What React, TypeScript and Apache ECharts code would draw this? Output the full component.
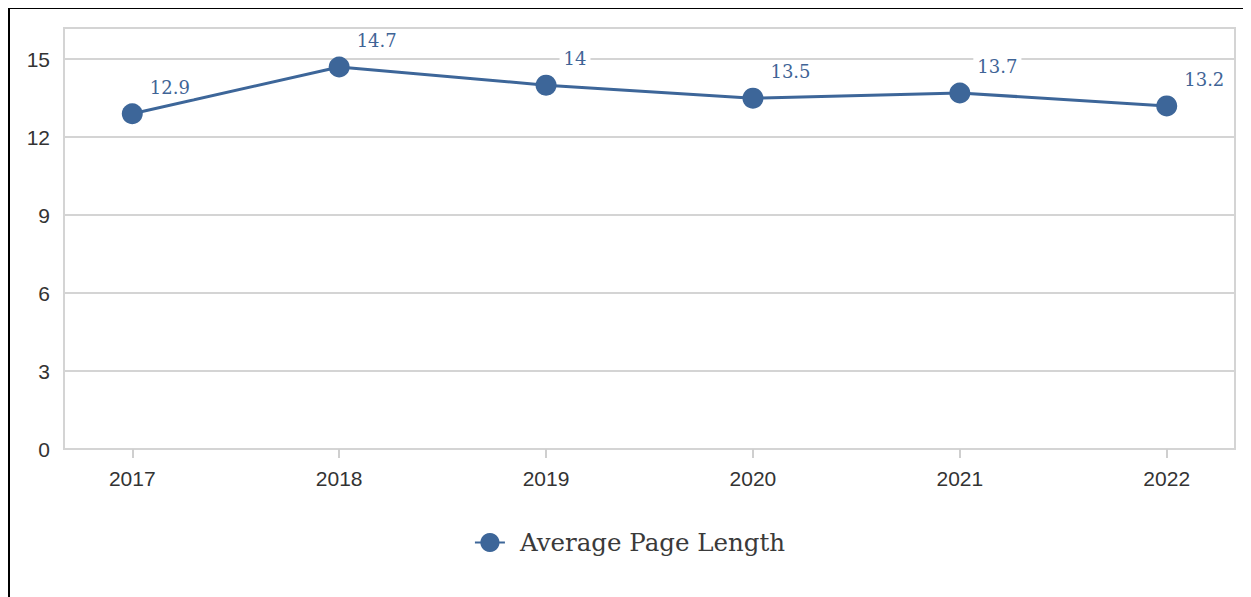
import React, { useEffect, useRef } from "react";
import * as echarts from "echarts";

const years = [2017, 2018, 2019, 2020, 2021, 2022];
const avgPageLength = [12.9, 14.7, 14, 13.5, 13.7, 13.2];
const yTicks = [0, 3, 6, 9, 12, 15];
const seriesName = "Average Page Length";

export default function App() {
  const ref = useRef<HTMLDivElement>(null);
  useEffect(() => {
    if (!ref.current) return;
    const chart = echarts.init(ref.current, undefined, { renderer: "svg" });
    const blue = "#3d6699";
    chart.setOption({
      animation: false,
      grid: {
        left: 54,
        right: 14,
        top: 19,
        bottom: 152,
        show: true,
        borderColor: "#d4d4d4",
        borderWidth: 2,
      },
      legend: {
        top: 516,
        left: "center",
        itemWidth: 30,
        itemHeight: 24,
        textStyle: {
          fontFamily: "DejaVu Serif",
          fontSize: 24.5,
          color: "#3a3a3a",
          padding: [0, 0, 0, 10],
        },
        data: [seriesName],
      },
      xAxis: {
        type: "value",
        min: 2016.67,
        max: 2022.33,
        axisLine: { show: false },
        splitLine: { show: false },
        axisTick: {
          show: true,
          customValues: years,
          length: 9,
          lineStyle: { color: "#cfcfcf", width: 2 },
        },
        axisLabel: {
          customValues: years,
          formatter: (v: number) => String(Math.round(v)),
          fontFamily: "Liberation Sans",
          fontSize: 21,
          color: "#333",
          margin: 19,
        },
      },
      yAxis: {
        type: "value",
        min: 0,
        max: 16.2,
        interval: 3,
        axisLine: { show: false },
        axisTick: { show: false },
        splitLine: { lineStyle: { color: "#d4d4d4", width: 2 } },
        axisLabel: {
          customValues: yTicks,
          fontFamily: "Liberation Sans",
          fontSize: 21,
          color: "#333",
          margin: 14,
        },
      },
      series: [
        {
          name: seriesName,
          type: "line",
          data: years.map((y, i) => [y, avgPageLength[i]]),
          symbol: "circle",
          symbolSize: 21,
          itemStyle: { color: blue },
          lineStyle: { color: blue, width: 3 },
          label: {
            show: true,
            position: [24, -27],
            formatter: (p: any) => String(p.value[1]),
            fontFamily: "DejaVu Serif",
            fontSize: 18,
            color: "#3f6496",
            backgroundColor: "#fff",
            padding: [2, 4],
          },
        },
      ],
    });
    return () => chart.dispose();
  }, []);
  return (
    <div
      style={{
        width: 1239,
        height: 592,
        border: "2px solid #000",
        marginTop: -1,
      }}
    >
      <div ref={ref} style={{ width: 1239, height: 592 }} />
    </div>
  );
}
